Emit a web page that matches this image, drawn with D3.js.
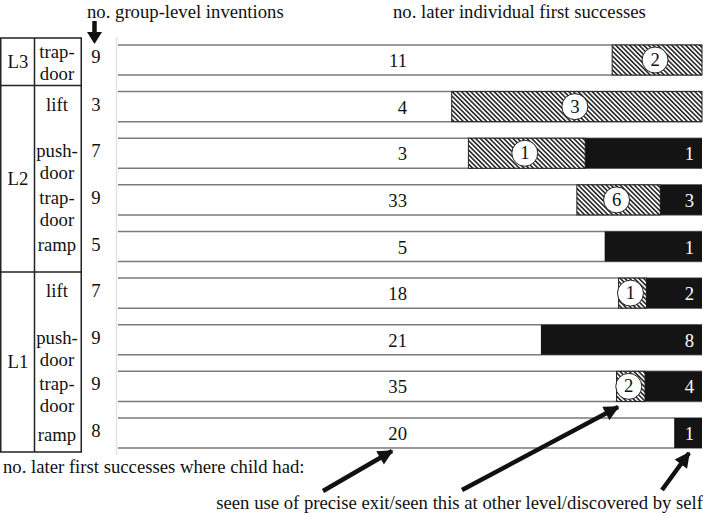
<!DOCTYPE html>
<html>
<head>
<meta charset="utf-8">
<script src="https://cdn.jsdelivr.net/npm/d3@7"></script>
<style>
  html, body { margin: 0; padding: 0; background: #fff; }
  svg { display: block; }
</style>
</head>
<body>
<svg id="chart" width="703" height="517" font-family="'Liberation Serif', 'DejaVu Serif', serif"></svg>
<script>
// ---- data ----
const levels = ["L3", "L2", "L2", "L2", "L2", "L1", "L1", "L1", "L1"];
const exercises = [["trap-", "door"], ["lift"], ["push-", "door"], ["trap-", "door"], ["ramp"],
                   ["lift"], ["push-", "door"], ["trap-", "door"], ["ramp"]];
const groupInventions = [9, 3, 7, 9, 5, 7, 9, 9, 8];
const seenPrecise = [11, 4, 3, 33, 5, 18, 21, 35, 20];
const seenOtherLevel = [2, 3, 1, 6, 0, 1, 0, 2, 0];
const discoveredSelf = [0, 0, 1, 3, 1, 2, 8, 4, 1];
const levelGroups = [{ name: "L3", first: 0, last: 0 }, { name: "L2", first: 1, last: 4 }, { name: "L1", first: 5, last: 8 }];

const svg = d3.select("#chart");
const FONT = "'Liberation Serif', 'DejaVu Serif', serif";
const FS = 18.7;
const rowsIdx = d3.range(seenPrecise.length);

const x = d3.scaleLinear().domain([0, 1]).range([118, 702]);
const y = d3.scaleBand().domain(rowsIdx).range([45, 448]).paddingInner(0.356).paddingOuter(0);
const bw = y.bandwidth();

function txt(sel) { return sel.attr("font-family", FONT).attr("font-size", FS).attr("fill", "#111"); }

// hatch pattern
const defs = svg.append("defs");
const pat = defs.append("pattern").attr("id", "hatch")
  .attr("patternUnits", "userSpaceOnUse").attr("width", 3.3).attr("height", 10)
  .attr("patternTransform", "rotate(-45)");
pat.append("rect").attr("width", 3.3).attr("height", 10).attr("fill", "#fff");
pat.append("line").attr("x1", 0.8).attr("x2", 0.8).attr("y1", 0).attr("y2", 10)
  .attr("stroke", "#111").attr("stroke-width", 1.45);

defs.append("marker").attr("id", "ahead").attr("viewBox", "0 0 10 10")
  .attr("refX", 9).attr("refY", 5).attr("markerWidth", 3.8).attr("markerHeight", 3.4)
  .attr("markerUnits", "strokeWidth").attr("orient", "auto")
  .append("path").attr("d", "M0,0 L10,5 L0,10 Z").attr("fill", "#111");

// stacked proportions
const stacks = rowsIdx.map(i => {
  const tot = seenPrecise[i] + seenOtherLevel[i] + discoveredSelf[i];
  const a = seenPrecise[i] / tot, b = seenOtherLevel[i] / tot, c = discoveredSelf[i] / tot;
  return { i, p0: 0, p1: a, h0: a, h1: a + b, s0: a + b, s1: a + b + c };
});

// faint vertical axis line
svg.append("line").attr("x1", 116.5).attr("x2", 116.5).attr("y1", 37).attr("y2", 455)
  .attr("stroke", "#e2e2e2").attr("stroke-width", 1.5);

const bars = svg.append("g").selectAll("g").data(stacks).join("g");
bars.append("rect").attr("x", x(0)).attr("y", d => y(d.i)).attr("width", x(1) - x(0)).attr("height", bw).attr("fill", "#fff");
bars.append("line").attr("x1", x(0)).attr("x2", x(1)).attr("y1", d => y(d.i)).attr("y2", d => y(d.i))
  .attr("stroke", "#7a7a7a").attr("stroke-width", 1.5);
bars.append("line").attr("x1", x(0)).attr("x2", x(1)).attr("y1", d => y(d.i) + bw).attr("y2", d => y(d.i) + bw)
  .attr("stroke", "#7a7a7a").attr("stroke-width", 1.5);
bars.filter(d => d.h1 > d.h0).append("rect")
  .attr("x", d => x(d.h0)).attr("y", d => y(d.i)).attr("width", d => x(d.h1) - x(d.h0)).attr("height", bw)
  .attr("fill", "url(#hatch)").attr("stroke", "#222").attr("stroke-width", 1);
bars.filter(d => d.s1 > d.s0).append("rect")
  .attr("x", d => x(d.s0)).attr("y", d => y(d.i)).attr("width", d => x(d.s1) - x(d.s0)).attr("height", bw)
  .attr("fill", "#141414");

txt(bars.append("text")).attr("x", 407).attr("y", d => y(d.i) + bw / 2 + 7)
  .attr("text-anchor", "end").text(d => seenPrecise[d.i]);
const hl = bars.filter(d => d.h1 > d.h0);
hl.append("circle").attr("cx", d => x((d.h0 + d.h1) / 2) - 2).attr("cy", d => y(d.i) + bw / 2)
  .attr("r", 13).attr("fill", "#fff").attr("stroke", "#222").attr("stroke-width", 1);
txt(hl.append("text")).attr("x", d => x((d.h0 + d.h1) / 2) - 2).attr("y", d => y(d.i) + bw / 2 + 6)
  .attr("text-anchor", "middle").text(d => seenOtherLevel[d.i]);
txt(bars.filter(d => d.s1 > d.s0).append("text")).attr("x", x(1) - 8).attr("y", d => y(d.i) + bw / 2 + 7)
  .attr("text-anchor", "end").attr("fill", "#fff").text(d => discoveredSelf[d.i]);

// group inventions counts
txt(svg.append("g").selectAll("text").data(rowsIdx).join("text"))
  .attr("x", 96).attr("y", i => y(i) + bw / 2 + (i === 0 ? 3 : 4)).attr("text-anchor", "middle")
  .text(i => groupInventions[i]);

// table
const tbl = svg.append("g");
const rowTop = i => y(i) - 6;
const tTop = y(0) - 7, tBot = y(8) + bw + 4;
tbl.append("rect").attr("x", 0.75).attr("y", tTop).attr("width", 80.5).attr("height", tBot - tTop)
  .attr("fill", "none").attr("stroke", "#222").attr("stroke-width", 1.5);
tbl.append("line").attr("x1", 34.5).attr("x2", 34.5).attr("y1", tTop).attr("y2", tBot).attr("stroke", "#222").attr("stroke-width", 1.5);
levelGroups.slice(1).forEach(g => {
  tbl.append("line").attr("x1", 0).attr("x2", 81).attr("y1", rowTop(g.first)).attr("y2", rowTop(g.first))
    .attr("stroke", "#222").attr("stroke-width", 1.5);
});
levelGroups.forEach((g, k) => {
  const t = k === 0 ? tTop : rowTop(g.first);
  const b = k === levelGroups.length - 1 ? tBot : rowTop(levelGroups[k + 1].first);
  txt(tbl.append("text")).attr("x", 18).attr("y", (t + b) / 2 + 6).attr("text-anchor", "middle").text(g.name);
});
rowsIdx.forEach(i => {
  const lines = exercises[i];
  let y0 = y(i) + bw / 2 + 4;
  if (i === 0) y0 = (tTop + rowTop(1)) / 2 - 4;
  if (i === 8) y0 = y(i) + bw / 2 + 8;
  lines.forEach((s, j) => {
    txt(tbl.append("text")).attr("x", 57).attr("y", y0 + j * 22).attr("text-anchor", "middle").text(s);
  });
});

// headers
txt(svg.append("text")).attr("x", 87).attr("y", 18).text("no. group-level inventions");
txt(svg.append("text")).attr("x", 393).attr("y", 18).text("no. later individual first successes");
svg.append("line").attr("x1", 94.5).attr("x2", 94.5).attr("y1", 21).attr("y2", 34).attr("stroke", "#111").attr("stroke-width", 4.5);
svg.append("path").attr("d", "M87,32 L102,32 L94.5,44 Z").attr("fill", "#111");

// bottom texts
txt(svg.append("text")).attr("x", 3).attr("y", 473).text("no. later first successes where child had:");
txt(svg.append("text")).attr("x", 703).attr("y", 509).attr("text-anchor", "end")
  .text("seen use of precise exit/seen this at other level/discovered by self");

// pointer arrows
const arrows = [[323, 491, 392, 451], [462, 490, 618, 407], [662, 490, 689, 453]];
svg.append("g").selectAll("line").data(arrows).join("line")
  .attr("x1", d => d[0]).attr("y1", d => d[1]).attr("x2", d => d[2]).attr("y2", d => d[3])
  .attr("stroke", "#111").attr("stroke-width", 4.5).attr("marker-end", "url(#ahead)");
</script>
</body>
</html>
